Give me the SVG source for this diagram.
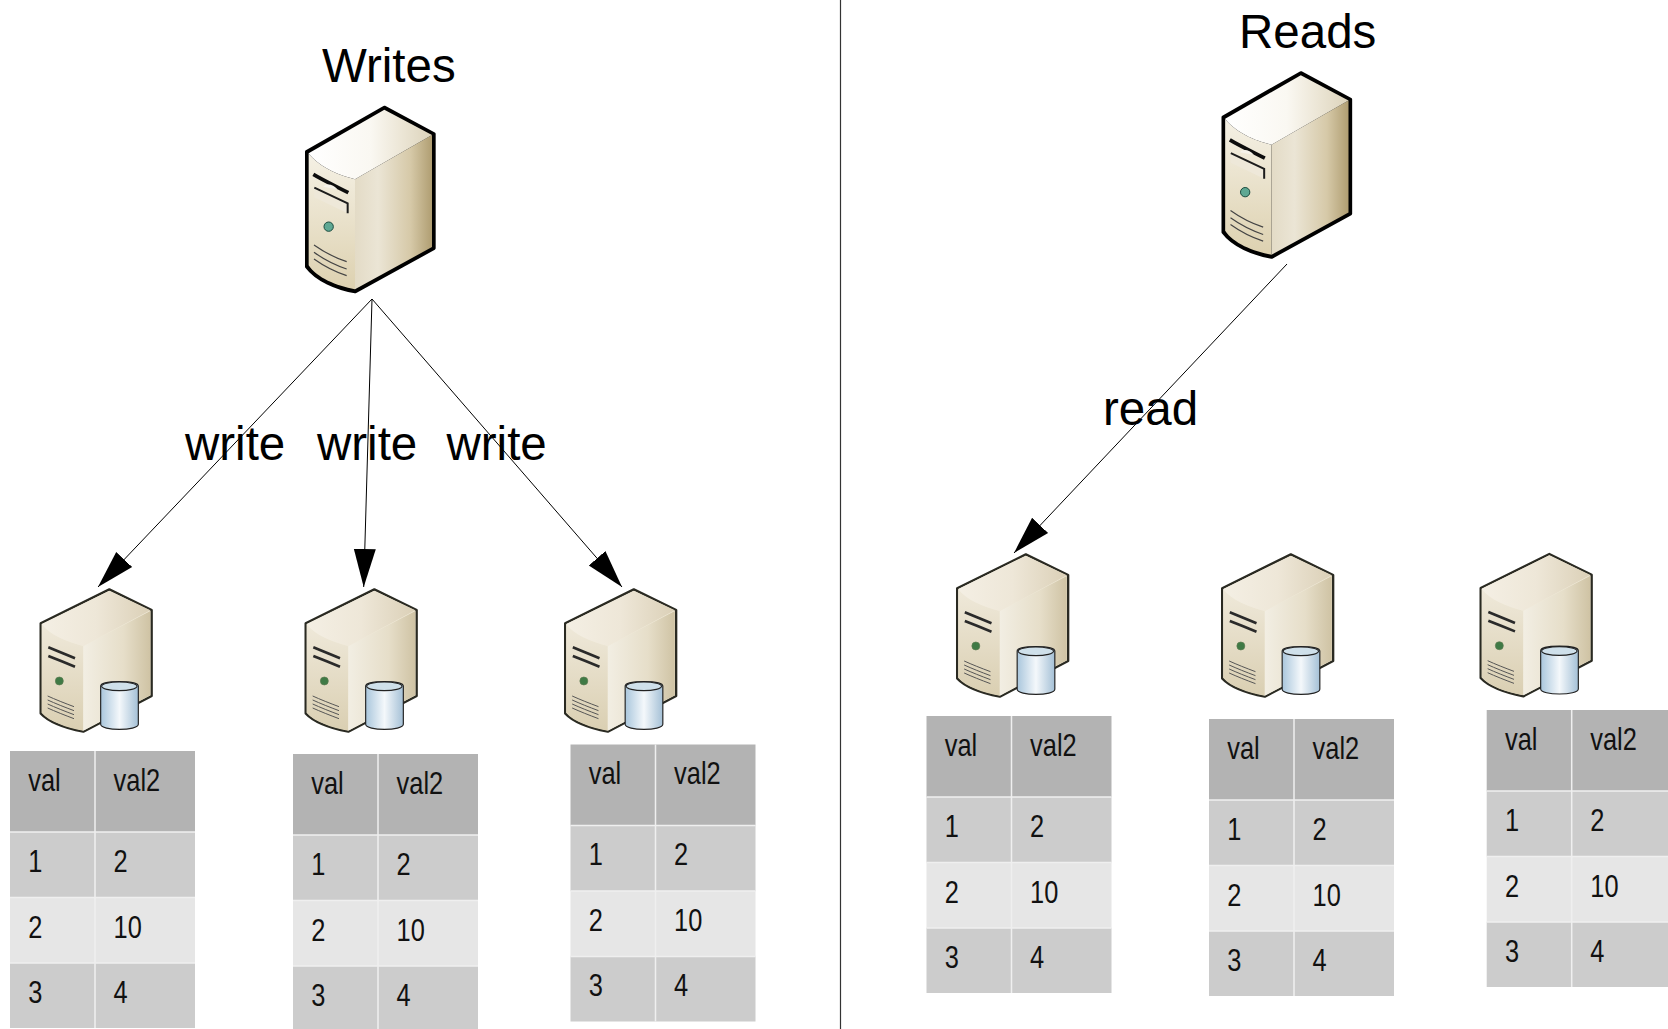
<svg xmlns="http://www.w3.org/2000/svg" width="1668" height="1029" viewBox="0 0 1668 1029">
<style>
.lbl{font-family:"Liberation Sans",Arial,sans-serif;font-size:47.500px;fill:#000}
.cell{font-family:"Liberation Sans",Arial,sans-serif;font-size:31px;fill:#111}
.hd{fill:#b3b3b3}.r1{fill:#cccccc}.r2{fill:#e6e6e6}
.grid{stroke:#efefef;stroke-width:1.500;fill:none}
.conn{stroke:#000;stroke-width:1;fill:none;marker-end:url(#arr)}
</style>
<defs>
<marker id="arr" markerUnits="userSpaceOnUse" markerWidth="40" markerHeight="24" refX="38" refY="12" orient="auto"><path d="M0,1 L38,12 L0,23 Z" fill="#000"/></marker>
<linearGradient id="bTop" x1="0" y1="0" x2="1" y2="0"><stop offset="0" stop-color="#fff"/><stop offset=".5" stop-color="#faf8f2"/><stop offset=".75" stop-color="#ece6d6"/><stop offset="1" stop-color="#dcd3bb"/></linearGradient>
<linearGradient id="bFront" x1="0" y1="0" x2="0" y2="1"><stop offset="0" stop-color="#f5f1e5"/><stop offset="1" stop-color="#ddd1b0"/></linearGradient>
<linearGradient id="bRight" x1="0" y1="0" x2="1" y2="0"><stop offset="0" stop-color="#e3dbc6"/><stop offset=".3" stop-color="#ebe5d5"/><stop offset=".72" stop-color="#d6c9a8"/><stop offset="1" stop-color="#b09e72"/></linearGradient>
<linearGradient id="sTop" x1="0" y1="0" x2="1" y2="0"><stop offset="0" stop-color="#f4efe4"/><stop offset=".5" stop-color="#eee7d8"/><stop offset="1" stop-color="#dbd0b7"/></linearGradient>
<linearGradient id="sFront" x1="0" y1="0" x2="0" y2="1"><stop offset="0" stop-color="#efe9da"/><stop offset="1" stop-color="#dacfb2"/></linearGradient>
<linearGradient id="sRight" x1="0" y1="0" x2="1" y2="0"><stop offset="0" stop-color="#f2eee3"/><stop offset=".6" stop-color="#e6dec9"/><stop offset="1" stop-color="#cfc3a4"/></linearGradient>
<linearGradient id="cyl" x1="0" y1="0" x2="1" y2="0"><stop offset="0" stop-color="#a9c6dc"/><stop offset=".5" stop-color="#f4f8fb"/><stop offset="1" stop-color="#a4c0d6"/></linearGradient>
<g id="bigServer" transform="translate(280,90) scale(.33333)">
<path d="M313,52 L462,132 L462,475 L225,605 C170,595 110,570 80,530 L80,185 Z" fill="#000" stroke="#000" stroke-width="10" stroke-linejoin="round"/>
<path d="M86,190 C110,225 170,255 225,268 L225,598 C170,588 110,563 86,526 Z" fill="url(#bFront)"/>
<path d="M225,268 L456,135 L456,471 L225,598 Z" fill="url(#bRight)"/>
<path d="M313,59 L456,135 L225,268 C170,255 110,225 86,190 Z" fill="url(#bTop)"/>
<path d="M100,253 C125,268 150,280 205,308" fill="none" stroke="#0d0d0d" stroke-width="11"/>
<path d="M130,290 C140,278 160,283 172,298 Z" fill="#f5f2ea"/>
<path d="M103,293 L203,340 L203,370 L103,322 Z" fill="#eee8d9"/>
<path d="M103,293 L203,340 L203,370" fill="none" stroke="#1c1c1c" stroke-width="6"/>
<circle cx="146" cy="410" r="14" fill="#5fa893" stroke="#1b4a3e" stroke-width="3"/>
<path d="M102,465 C130,485 170,505 200,515 M102,487 C130,507 170,527 200,537 M102,507 C130,527 170,547 200,557" fill="none" stroke="#444" stroke-width="3.500"/>
</g>
<g id="dbServer" transform="translate(0,560) scale(.33333)">
<path d="M328,88 L455,150 L455,408 L250,515 C200,505 150,490 122,460 L122,190 Z" fill="#f0ead9" stroke="#2a2a22" stroke-width="7" stroke-linejoin="round"/>
<path d="M125,192 C150,225 200,245 250,258 L250,512 C200,502 150,487 125,458 Z" fill="url(#sFront)"/>
<path d="M250,258 L451,153 L451,406 L250,512 Z" fill="url(#sRight)"/>
<path d="M328,92 L451,151 L250,258 C200,245 150,225 125,192 Z" fill="url(#sTop)"/>
<path d="M145,262 C170,272 200,285 225,295 M145,288 C170,298 200,310 225,320" fill="none" stroke="#2a2a2a" stroke-width="8"/>
<circle cx="178" cy="363" r="12" fill="#3f7a45" stroke="#5c7a50" stroke-width="2"/>
<path d="M143,408 C165,418 195,430 222,440 M143,420 C165,430 195,442 222,452 M143,432 C165,442 195,454 222,464 M143,444 C165,454 195,466 222,476" fill="none" stroke="#555" stroke-width="3"/>
<path d="M302,378 C302,360 415,360 415,378 L415,493 C415,513 302,513 302,493 Z" fill="url(#cyl)" stroke="#222" stroke-width="3.500"/>
<ellipse cx="358" cy="379" rx="53" ry="13" fill="#cfe0ea" stroke="#222" stroke-width="3.500"/>
</g>
<g id="tableBg">
<rect class="hd" x="10" y="751" width="185" height="81"/>
<rect class="r1" x="10" y="832" width="185" height="65.500"/>
<rect class="r2" x="10" y="897.500" width="185" height="65.500"/>
<rect class="r1" x="10" y="963" width="185" height="65"/>
<path class="grid" d="M95,751 V1028 M10,832 H195 M10,897.500 H195 M10,963 H195"/>
</g>
</defs>
<rect width="1668" height="1029" fill="#fff"/>
<path id="divider" d="M840.500,0 V1029" stroke="#333" stroke-width="1.200" fill="none"/>
<g id="titles">
<text class="lbl" x="322" y="81.500">Writes</text>
<text class="lbl" x="1239" y="47.500">Reads</text>
</g>
<g id="writeServer"><use href="#bigServer"/></g>
<g id="readServer"><use href="#bigServer" transform="translate(916.500,-34.500)"/></g>
<g id="node1"><use href="#dbServer"/><use href="#tableBg"/>
<g transform="scale(.82,1)"><text class="cell" x="34.500" y="791">val</text><text class="cell" x="138.500" y="791">val2</text><text class="cell" x="34.500" y="872">1</text><text class="cell" x="138.500" y="872">2</text><text class="cell" x="34.500" y="938">2</text><text class="cell" x="138.500" y="938">10</text><text class="cell" x="34.500" y="1003">3</text><text class="cell" x="138.500" y="1003">4</text></g></g>
<g id="node2" transform="translate(265,0)"><use href="#dbServer"/><g transform="translate(18,3)"><use href="#tableBg"/>
<g transform="scale(.82,1)"><text class="cell" x="34.500" y="791">val</text><text class="cell" x="138.500" y="791">val2</text><text class="cell" x="34.500" y="872">1</text><text class="cell" x="138.500" y="872">2</text><text class="cell" x="34.500" y="938">2</text><text class="cell" x="138.500" y="938">10</text><text class="cell" x="34.500" y="1003">3</text><text class="cell" x="138.500" y="1003">4</text></g></g></g>
<g id="node3" transform="translate(524.500,0)"><use href="#dbServer"/><g transform="translate(36,-6.500)"><use href="#tableBg"/>
<g transform="scale(.82,1)"><text class="cell" x="34.500" y="791">val</text><text class="cell" x="138.500" y="791">val2</text><text class="cell" x="34.500" y="872">1</text><text class="cell" x="138.500" y="872">2</text><text class="cell" x="34.500" y="938">2</text><text class="cell" x="138.500" y="938">10</text><text class="cell" x="34.500" y="1003">3</text><text class="cell" x="138.500" y="1003">4</text></g></g></g>
<g id="node4" transform="translate(916.500,-35)"><use href="#dbServer"/><g><use href="#tableBg"/>
<g transform="scale(.82,1)"><text class="cell" x="34.500" y="791">val</text><text class="cell" x="138.500" y="791">val2</text><text class="cell" x="34.500" y="872">1</text><text class="cell" x="138.500" y="872">2</text><text class="cell" x="34.500" y="938">2</text><text class="cell" x="138.500" y="938">10</text><text class="cell" x="34.500" y="1003">3</text><text class="cell" x="138.500" y="1003">4</text></g></g></g>
<g id="node5" transform="translate(1181.500,-35)"><use href="#dbServer"/><g transform="translate(17.500,3)"><use href="#tableBg"/>
<g transform="scale(.82,1)"><text class="cell" x="34.500" y="791">val</text><text class="cell" x="138.500" y="791">val2</text><text class="cell" x="34.500" y="872">1</text><text class="cell" x="138.500" y="872">2</text><text class="cell" x="34.500" y="938">2</text><text class="cell" x="138.500" y="938">10</text><text class="cell" x="34.500" y="1003">3</text><text class="cell" x="138.500" y="1003">4</text></g></g></g>
<g id="node6" transform="translate(1440,-35.300)"><use href="#dbServer"/><g transform="translate(36.700,-5.700)"><use href="#tableBg"/>
<g transform="scale(.82,1)"><text class="cell" x="34.500" y="791">val</text><text class="cell" x="138.500" y="791">val2</text><text class="cell" x="34.500" y="872">1</text><text class="cell" x="138.500" y="872">2</text><text class="cell" x="34.500" y="938">2</text><text class="cell" x="138.500" y="938">10</text><text class="cell" x="34.500" y="1003">3</text><text class="cell" x="138.500" y="1003">4</text></g></g></g>
<g id="connectors">
<line class="conn" x1="372" y1="299" x2="98" y2="587"/>
<line class="conn" x1="372" y1="299" x2="363.700" y2="587"/>
<line class="conn" x1="372" y1="299" x2="622" y2="587"/>
<line class="conn" x1="1287" y1="264" x2="1014" y2="553"/>
</g>
<g id="edgeLabels">
<text class="lbl" x="185" y="460">write</text>
<text class="lbl" x="317" y="460">write</text>
<text class="lbl" x="446.500" y="460">write</text>
<text class="lbl" x="1103" y="425">read</text>
</g>
</svg>
